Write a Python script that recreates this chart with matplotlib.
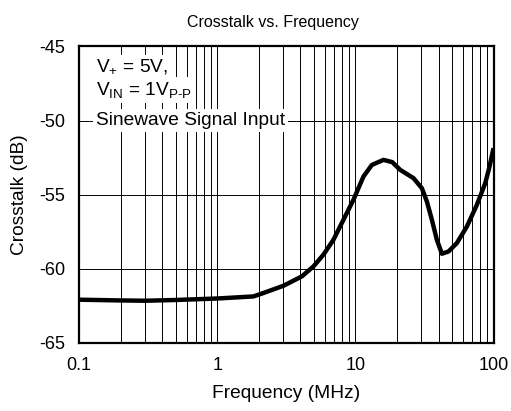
import matplotlib.pyplot as plt
import numpy as np

plt.rcParams['font.family'] = ['Liberation Sans', 'DejaVu Sans']
plt.rcParams['mathtext.fontset'] = 'custom'
plt.rcParams['mathtext.rm'] = 'Liberation Sans'
plt.rcParams['mathtext.it'] = 'Liberation Sans'
plt.rcParams['axes.unicode_minus'] = False

# crosstalk curve
freq_mhz = [0.1, 0.2, 0.3, 0.5, 1.0, 1.83, 2.16, 3.02, 4.10, 4.97, 5.87, 6.94,
            8.20, 9.69, 11.45, 13.17, 15.98, 18.5, 21.1, 26.35, 30.3, 32.95,
            35.8, 38.9, 42.3, 47.2, 54.3, 64.2, 75.8, 87.1, 93.0, 100]
crosstalk_db = [-62.08, -62.13, -62.15, -62.1, -62.0, -61.86, -61.63, -61.14,
                -60.51, -59.84, -59.05, -58.04, -56.69, -55.34, -53.77, -52.99,
                -52.65, -52.8, -53.32, -53.88, -54.56, -55.46, -56.69, -58.04,
                -58.98, -58.83, -58.26, -57.14, -55.68, -54.22, -53.2, -51.86]

x_ticks = [0.1, 1, 10, 100]
x_tick_labels = ['0.1', '1', '10', '100']
y_ticks = [-65, -60, -55, -50, -45]
y_tick_labels = ['-65', '-60', '-55', '-50', '-45']

fig = plt.figure(figsize=(5.11, 4.11), dpi=100)
ax = fig.add_axes([0.1546, 0.1655, 0.8112, 0.7214])

ax.set_xscale('log')
ax.set_xlim(0.1, 100)
ax.set_ylim(-65, -45)

# grid: every minor/major decade line, horizontal only at majors
ax.grid(True, which='both', axis='x', color='black', linewidth=0.7)
ax.grid(True, which='major', axis='y', color='black', linewidth=0.7)

ax.plot(freq_mhz, crosstalk_db, color='black', linewidth=3.2,
        solid_joinstyle='round', solid_capstyle='butt', zorder=3)

ax.set_xticks(x_ticks)
ax.set_xticklabels(x_tick_labels)
ax.set_yticks(y_ticks)
ax.set_yticklabels(y_tick_labels)
ax.tick_params(which='both', length=0, labelsize=13)
ax.tick_params(axis='x', pad=10)
ax.tick_params(axis='y', pad=10)

for s in ax.spines.values():
    s.set_linewidth(1.6)
    s.set_zorder(4)

ax.set_title('Crosstalk vs. Frequency', fontsize=11.5, pad=14, x=0.468)
ax.set_xlabel('Frequency (MHz)', fontsize=13.8, labelpad=8)
ax.set_ylabel('Crosstalk (dB)', fontsize=13.8, labelpad=8)

box = dict(facecolor='white', edgecolor='none', pad=2)
ax.text(0.041, 0.914, r'V$_{+}$ = 5V,', transform=ax.transAxes, fontsize=13.8,
        va='baseline', bbox=box, zorder=5)
ax.text(0.041, 0.836, r'V$_{\mathrm{IN}}$ = 1V$_{\text{P-P}}$', transform=ax.transAxes,
        fontsize=13.8, va='baseline', bbox=box, zorder=5)
ax.text(0.041, 0.735, 'Sinewave Signal Input', transform=ax.transAxes, fontsize=13.8,
        va='baseline', bbox=box, zorder=5)

fig.savefig('out.png', dpi=100)
